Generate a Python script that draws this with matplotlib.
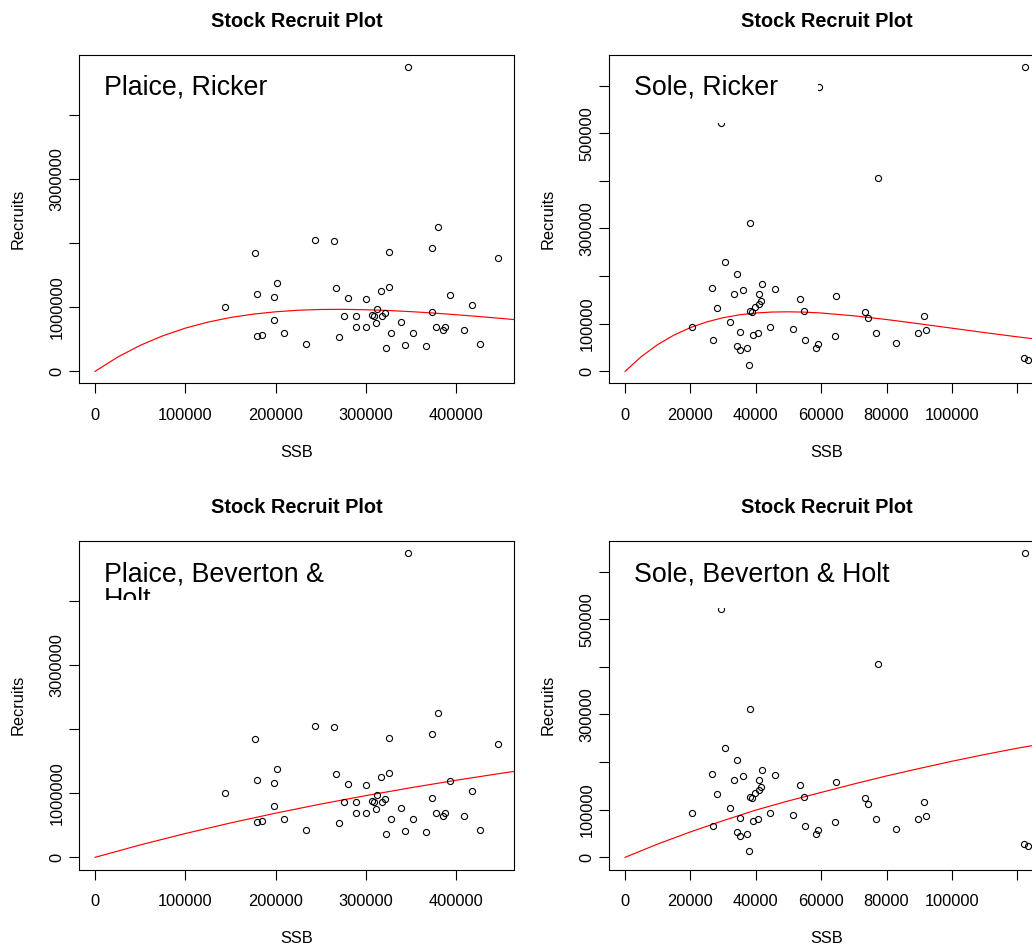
import numpy as np
import matplotlib
matplotlib.use('Agg')
import matplotlib.pyplot as plt
from matplotlib.patches import Rectangle
from matplotlib.transforms import Bbox, TransformedBbox

plt.rcParams['font.family'] = ['Liberation Sans', 'DejaVu Sans']

# plaice stock / recruitment pairs
plaice_ssb = [346300, 177600, 243400, 264100, 325500, 379900, 373300, 446100, 144300, 179800,
              202000, 198300, 198300, 179800, 185000, 209000, 233100, 266700, 279700, 275900,
              270400, 288900, 288900, 300300, 300300, 306700, 308900, 311900, 311100, 316300,
              325500, 317800, 320800, 327700, 322200, 338500, 343300, 352500, 366300, 373300,
              377700, 385800, 388000, 393600, 408800, 417300, 426500]
plaice_rec = [4750000, 1842000, 2045000, 2029000, 1857000, 2249000, 1920000, 1773000, 997000, 1206000,
              1373000, 1159000, 809000, 548000, 564000, 605000, 434000, 1304000, 1142000, 866000,
              532000, 866000, 689000, 1127000, 689000, 881000, 866000, 981000, 756000, 1257000,
              1320000, 866000, 918000, 595000, 371000, 777000, 418000, 595000, 402000, 923000,
              689000, 642000, 689000, 1194000, 642000, 1033000, 434000]

# sole stock / recruitment pairs
sole_ssb = [122350, 59230, 29260, 77540, 38260, 30470, 34370, 26700, 36000, 42040,
            45910, 33450, 41120, 28020, 41740, 41000, 39770, 38240, 38760, 53590,
            54630, 64450, 73350, 74270, 91360, 20560, 32220, 44290, 51340, 27010,
            35080, 39070, 40600, 34370, 35080, 37320, 37930, 54940, 58410, 59120,
            64150, 76930, 82760, 89720, 91970, 121940, 123270]
sole_rec = [638700, 598000, 522400, 406200, 310900, 230400, 204500, 175800, 171600, 182800,
            173700, 163200, 163200, 132400, 147700, 142200, 135900, 126700, 125400, 151900,
            126100, 159000, 123900, 111300, 115500, 93900, 102900, 93900, 88900, 65800,
            83300, 75600, 80500, 53900, 45500, 48300, 13300, 65800, 48300, 56700,
            74200, 80500, 58800, 80500, 87500, 28700, 23800]

# fitted curves
plaice_fit_ssb = [0, 25000, 50000, 75000, 100000, 125000, 150000, 175000, 200000, 225000,
                  250000, 275000, 300000, 325000, 350000, 375000, 400000, 425000, 450000, 475000]
plaice_ricker = [0, 223000, 406000, 555000, 675000, 769000, 841000, 893000, 930000, 954000,
                 966000, 968000, 962000, 950000, 932000, 910000, 884000, 856000, 826000, 795000]
plaice_bh_ssb = [0, 50000, 100000, 150000, 200000, 250000, 300000, 350000, 400000, 450000, 500000]
plaice_bh = [0, 194000, 372000, 537000, 690000, 832000, 964000, 1088000, 1204000, 1313000, 1415000]

sole_fit_ssb = [0, 5000, 10000, 15000, 20000, 25000, 30000, 35000, 40000, 45000, 50000,
                55000, 60000, 70000, 80000, 90000, 100000, 110000, 120000, 130000]
sole_ricker = [0, 31200, 56300, 76300, 91900, 103800, 112600, 118700, 122500, 124500, 125000,
               124300, 122500, 116600, 108800, 99900, 90600, 81400, 72500, 64100]
sole_bh_ssb = [0, 10000, 20000, 30000, 40000, 50000, 60000, 70000, 80000, 90000,
               100000, 110000, 120000, 130000]
sole_bh = [0, 28000, 53400, 77000, 99200, 118500, 136300, 154000, 170900, 186500,
           201700, 215800, 229100, 241000]

plaice_xticks = [0, 100000, 200000, 300000, 400000]
plaice_xlabels = ['0', '100000', '200000', '300000', '400000']
plaice_yticks = [0, 1000000, 2000000, 3000000, 4000000]
plaice_ylabels = ['0', '1000000', '', '3000000', '']
sole_xticks = [0, 20000, 40000, 60000, 80000, 100000, 120000]
sole_xlabels = ['0', '20000', '40000', '60000', '80000', '100000', '']
sole_yticks = [0, 100000, 200000, 300000, 400000, 500000, 600000]
sole_ylabels = ['0', '100000', '', '300000', '', '500000', '']

W, H = 1032, 947
AX_W, AX_H = 435, 328.5
fig = plt.figure(figsize=(W / 100, H / 100), dpi=100)


def panel(left_px, top_px, ssb, rec, fx, fy, label, box_w, box_h,
          xt, xl, yt, yl, second_line=None):
    ax = fig.add_axes([left_px / W, (H - top_px - AX_H) / H, AX_W / W, AX_H / H])
    ax.plot(fx, fy, color='red', lw=0.85, zorder=2)
    ax.plot(ssb, rec, 'o', mfc='none', mec='black', ms=4.4, mew=0.8, ls='none', zorder=2)

    xmax = max(ssb)
    ymax = max(rec)
    ax.set_xlim(-0.04 * xmax, 1.04 * xmax)
    ax.set_ylim(-0.04 * ymax, 1.04 * ymax)

    ax.set_xticks(xt)
    ax.set_xticklabels(xl)
    ax.set_yticks(yt)
    ax.set_yticklabels(yl, rotation=90, va='center')
    ax.tick_params(axis='x', length=7.2, width=0.8, pad=10.5, labelsize=11.8)
    ax.tick_params(axis='y', length=7.2, width=0.8, pad=3.3, labelsize=11.8)
    for s in ax.spines.values():
        s.set_linewidth(0.8)
        s.set_zorder(5)

    ax.set_title('Stock Recruit Plot', fontsize=14.4, fontweight='bold', pad=20.4)
    ax.set_xlabel('SSB', fontsize=11.8, va='center')
    ax.xaxis.set_label_coords(0.5, -69.2 / AX_H)
    ax.set_ylabel('Recruits', fontsize=11.8, va='center')
    ax.yaxis.set_label_coords(-61 / AX_W, 0.5)

    # white label box sitting on top of the points
    bx, by, bw, bh = 0, 1 - box_h / AX_H, box_w / AX_W, box_h / AX_H
    box = Rectangle((bx, by), bw, bh, transform=ax.transAxes,
                    facecolor='white', edgecolor='none', zorder=3)
    ax.add_patch(box)
    clip = TransformedBbox(Bbox([[bx, by], [bx + bw, by + bh]]), ax.transAxes)
    t = ax.text(25 / AX_W, 1 - 40 / AX_H, label, transform=ax.transAxes,
                fontsize=19.3, va='baseline', ha='left', zorder=4)
    t.set_clip_box(clip)
    t.set_clip_on(True)
    if second_line:
        t2 = ax.text(25 / AX_W, 1 - 66.4 / AX_H, second_line, transform=ax.transAxes,
                     fontsize=19.3, va='baseline', ha='left', zorder=4)
        t2.set_clip_box(clip)
        t2.set_clip_on(True)
    return ax


panel(79, 55, plaice_ssb, plaice_rec, plaice_fit_ssb, plaice_ricker, 'Plaice, Ricker',
      215, 68, plaice_xticks, plaice_xlabels, plaice_yticks, plaice_ylabels)
panel(609, 55, sole_ssb, sole_rec, sole_fit_ssb, sole_ricker, 'Sole, Ricker',
      209, 68, sole_xticks, sole_xlabels, sole_yticks, sole_ylabels)
panel(79, 541, plaice_ssb, plaice_rec, plaice_bh_ssb, plaice_bh, 'Plaice, Beverton &',
      260, 58.7, plaice_xticks, plaice_xlabels, plaice_yticks, plaice_ylabels, second_line='Holt')
panel(609, 541, sole_ssb, sole_rec, sole_bh_ssb, sole_bh, 'Sole, Beverton & Holt',
      291, 67, sole_xticks, sole_xlabels, sole_yticks, sole_ylabels)

fig.savefig('out.png', dpi=100)
